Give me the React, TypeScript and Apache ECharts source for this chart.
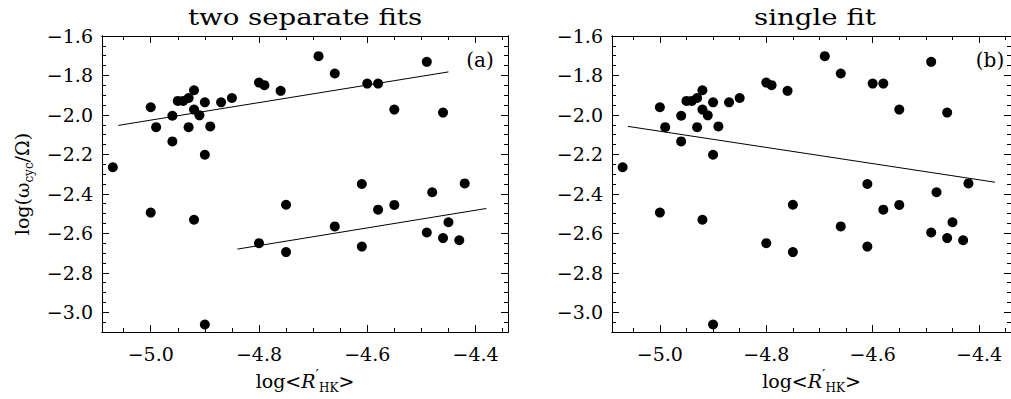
import React, { useEffect, useRef } from "react";
import * as echarts from "echarts";

// Upper branch (active sequence) points: log<R'HK>, log(omega_cyc/Omega)
const upperX = [-5.07, -5.0, -4.99, -4.96, -4.96, -4.95, -4.94, -4.93, -4.92, -4.92, -4.93, -4.91, -4.9, -4.9, -4.89, -4.87, -4.85, -4.8, -4.79, -4.76, -4.69, -4.66, -4.6, -4.58, -4.55, -4.49, -4.46];
const upperY = [-2.265, -1.961, -2.062, -2.004, -2.134, -1.929, -1.929, -1.914, -1.875, -1.973, -2.062, -2.002, -1.936, -2.202, -2.058, -1.936, -1.914, -1.836, -1.849, -1.878, -1.702, -1.79, -1.841, -1.841, -1.973, -1.731, -1.988];
// Lower branch (inactive sequence) points
const lowerX = [-5.0, -4.92, -4.9, -4.8, -4.75, -4.75, -4.66, -4.61, -4.61, -4.58, -4.55, -4.49, -4.48, -4.46, -4.45, -4.43, -4.42];
const lowerY = [-2.495, -2.531, -3.062, -2.65, -2.455, -2.695, -2.565, -2.35, -2.667, -2.48, -2.456, -2.596, -2.392, -2.624, -2.544, -2.635, -2.347];

// Fit lines (end points)
const fitUpper = [[-5.06, -2.053], [-4.45, -1.782]];
const fitLower = [[-4.84, -2.68], [-4.38, -2.474]];
const fitSingle = [[-5.06, -2.058], [-4.37, -2.341]];

// Axes
const xRange = [-5.09, -4.34];
const yRange = [-3.1, -1.6];
const xMajor = [-5.0, -4.8, -4.6, -4.4];
const xMinor = [-5.05, -4.95, -4.9, -4.85, -4.75, -4.7, -4.65, -4.55, -4.5, -4.45, -4.35];
const yMajor = [-3.0, -2.8, -2.6, -2.4, -2.2, -2.0, -1.8, -1.6];
const yMinor = [-3.05, -2.95, -2.9, -2.85, -2.75, -2.7, -2.65, -2.55, -2.5, -2.45, -2.35, -2.3, -2.25, -2.15, -2.1, -2.05, -1.95, -1.9, -1.85, -1.75, -1.7, -1.65];

const titles = ["two separate fits", "single fit"];
const panelTags = ["(a)", "(b)"];

const FONT = "DejaVu Serif";
const INK = "#000";

const fmt = (v: number) => v.toFixed(1).replace("-", "\u2212");

const nameRich = {
  n: { fontFamily: FONT, fontSize: 19, color: INK, lineHeight: 26 },
  i: { fontFamily: FONT, fontSize: 19, fontStyle: "italic", color: INK, lineHeight: 26 },
  p: { fontFamily: FONT, fontSize: 15, color: INK, verticalAlign: "top", lineHeight: 14 },
  s: { fontFamily: FONT, fontSize: 12, color: INK, verticalAlign: "bottom", lineHeight: 12 },
};

export default function App() {
  const ref = useRef<HTMLDivElement>(null);
  useEffect(() => {
    if (!ref.current) return;
    const chart = echarts.init(ref.current, undefined, { renderer: "svg" });

    const panels = [
      { left: 102, top: 36, width: 406, height: 296 },
      { left: 612, top: 36, width: 406, height: 296 },
    ];
    const grids: any[] = [];
    const xAxes: any[] = [];
    const yAxes: any[] = [];
    const lineStyle = { color: INK, width: 1 };

    panels.forEach((p, pi) => {
      const gMain = grids.length;
      grids.push({ ...p, containLabel: false });
      const gMinor = grids.length;
      grids.push({ ...p, containLabel: false });

      const mkX = (gi: number, pos: string, ticks: number[], len: number, labels: boolean, named: boolean) => ({
        type: "value",
        gridIndex: gi,
        position: pos,
        min: xRange[0],
        max: xRange[1],
        axisLine: { show: true, onZero: false, lineStyle },
        axisTick: { show: true, inside: true, length: len, customValues: ticks, lineStyle },
        axisLabel: labels
          ? { show: true, customValues: ticks, formatter: fmt, margin: 12, color: INK, fontFamily: FONT, fontSize: 19 }
          : { show: false },
        splitLine: { show: false },
        name: named ? "{n|log<}{i|R}{p|\u2032}{s|HK}{n|>}" : "",
        nameLocation: "middle",
        nameGap: 28,
        nameTextStyle: { color: INK, fontFamily: FONT, fontSize: 19, rich: nameRich },
      });
      const mkY = (gi: number, pos: string, ticks: number[], len: number, labels: boolean, named: boolean) => ({
        type: "value",
        gridIndex: gi,
        position: pos,
        min: yRange[0],
        max: yRange[1],
        axisLine: { show: true, onZero: false, lineStyle },
        axisTick: { show: true, inside: true, length: len, customValues: ticks, lineStyle },
        axisLabel: labels
          ? { show: true, customValues: ticks, formatter: fmt, margin: 9, color: INK, fontFamily: FONT, fontSize: 19 }
          : { show: false },
        splitLine: { show: false },
        name: named ? "{n|log(\u03c9}{s|cyc}{n|/\u03a9)}" : "",
        nameLocation: "middle",
        nameGap: 67,
        nameTextStyle: { color: INK, fontFamily: FONT, fontSize: 19, rich: nameRich },
      });

      xAxes.push(mkX(gMain, "bottom", xMajor, 7, true, true));
      xAxes.push(mkX(gMain, "top", xMajor, 7, false, false));
      xAxes.push(mkX(gMinor, "bottom", xMinor, 4, false, false));
      xAxes.push(mkX(gMinor, "top", xMinor, 4, false, false));
      yAxes.push(mkY(gMain, "left", yMajor, 7, true, pi === 0));
      yAxes.push(mkY(gMain, "right", yMajor, 7, false, false));
      yAxes.push(mkY(gMinor, "left", yMinor, 4, false, false));
      yAxes.push(mkY(gMinor, "right", yMinor, 4, false, false));
    });

    const allPoints = [
      ...upperX.map((x, i) => [x, upperY[i]]),
      ...lowerX.map((x, i) => [x, lowerY[i]]),
    ];

    const scatter = (xi: number, yi: number) => ({
      type: "scatter",
      xAxisIndex: xi,
      yAxisIndex: yi,
      data: allPoints,
      symbol: "circle",
      symbolSize: 10,
      itemStyle: { color: INK, opacity: 1 },
      silent: true,
    });
    const fitLine = (xi: number, yi: number, d: number[][]) => ({
      type: "line",
      xAxisIndex: xi,
      yAxisIndex: yi,
      data: d,
      showSymbol: false,
      symbol: "none",
      lineStyle: { color: INK, width: 1 },
      silent: true,
    });

    const series = [
      scatter(0, 0),
      fitLine(0, 0, fitUpper),
      fitLine(0, 0, fitLower),
      scatter(4, 4),
      fitLine(4, 4, fitSingle),
    ];

    const textEl = (x: number, y: number, text: string, size: number, sx = 1) => ({
      type: "text",
      x,
      y,
      scaleX: sx,
      silent: true,
      style: {
        text,
        fill: INK,
        fontFamily: FONT,
        fontSize: size,
        align: "center",
        verticalAlign: "middle",
      },
    });

    chart.setOption({
      animation: false,
      backgroundColor: "#fff",
      grid: grids,
      xAxis: xAxes,
      yAxis: yAxes,
      series,
      graphic: [
        textEl(305, 17, titles[0], 23, 1.2),
        textEl(815, 17, titles[1], 23, 1.2),
        textEl(480, 60, panelTags[0], 20),
        textEl(990, 60, panelTags[1], 20),
      ],
    });
    return () => chart.dispose();
  }, []);
  return (
    <div
      ref={ref}
      style={{ position: "fixed", left: 0, top: 0, width: 1011, height: 399, background: "#fff" }}
    />
  );
}
